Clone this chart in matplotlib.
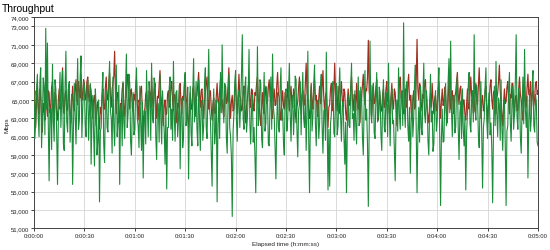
import numpy as np
import matplotlib
matplotlib.use("Agg")
import matplotlib.pyplot as plt
from matplotlib.ticker import FuncFormatter

# throughput samples, every half second, in thousands of Mbps
red_k = [
    64.5, 66.0, 62.0, 64.8, 66.8, 64.2, 63.5, 66.2, 65.2, 63.0, 61.5, 64.6, 64.0, 62.8, 66.5, 64.4, 63.2, 66.0, 65.8, 63.6,
    64.2, 66.4, 67.0, 64.6, 63.0, 65.8, 65.5, 63.4, 62.8, 65.0, 66.2, 64.0, 64.8, 66.6, 68.5, 64.2, 63.5, 65.6, 66.0, 63.8,
    64.0, 66.2, 65.8, 63.6, 62.5, 64.8, 66.5, 64.2, 63.8, 66.0, 67.2, 65.0, 64.5, 67.0, 66.0, 65.2, 67.8, 65.6, 65.0, 67.2,
    66.8, 65.0, 65.2, 67.0, 67.5, 65.4, 64.8, 66.6, 66.0, 64.0, 63.0, 65.0, 65.5, 63.6, 62.2, 64.4, 64.8, 63.0, 61.8, 64.2,
    63.5, 65.4, 66.2, 64.0, 64.0, 66.4, 67.5, 65.2, 65.0, 66.8, 68.0, 65.4, 64.2, 66.2, 66.8, 67.6, 70.3, 65.6, 63.5, 65.8,
    65.8, 63.8, 62.5, 64.6, 64.5, 66.2, 66.8, 64.4, 63.2, 65.0, 65.5, 67.0, 67.8, 65.2, 64.0, 66.0, 66.2, 64.2, 63.8, 65.6,
    65.0, 66.4, 67.2, 64.6, 62.8, 65.0, 64.5, 66.2, 66.5, 63.6, 61.5, 63.8, 64.0, 65.6, 66.0, 64.2, 63.5, 66.0, 65.8, 64.4,
    67.5, 65.0, 64.2, 66.0, 66.8, 64.6, 63.0, 65.4, 65.2, 66.8, 68.2, 65.6, 64.5, 63.2, 62.2, 64.4, 65.0, 63.4, 63.5, 65.6,
    66.0, 64.2, 64.8, 66.4, 67.0, 64.8, 63.8, 65.6, 65.5, 63.8, 62.5, 64.6, 64.2, 66.0, 66.8, 64.6, 63.5, 65.4, 65.0, 66.6,
    67.8, 65.4, 64.5, 63.0, 62.0, 64.2, 65.8, 64.0, 64.0, 66.2, 66.5, 64.4, 63.2, 65.2, 65.5, 66.8, 68.0, 65.6, 64.2, 66.0,
    66.2, 64.4, 63.0, 65.0, 65.8, 66.6, 67.5, 65.0, 64.0, 65.8, 66.0, 64.2, 62.8, 64.6, 65.2, 63.6, 63.5, 65.4, 66.8, 64.8,
    64.5, 66.0, 67.2, 65.2, 65.0, 63.8, 63.2, 65.4, 66.5, 64.6, 64.8, 66.6, 68.5, 65.0, 63.0, 64.8, 65.5, 63.8, 64.0, 66.2,
    66.8, 64.6, 63.5, 65.6, 67.8, 65.4, 65.2, 63.8, 64.0, 66.0, 66.5, 64.0, 62.5, 64.4, 65.0, 66.4, 67.0, 65.0, 64.2, 66.2,
    66.0, 64.2, 63.8, 65.8, 65.5, 66.8, 67.5, 65.2, 64.5, 63.2, 62.2, 64.4, 65.8, 64.0, 63.5, 65.6, 66.5, 64.6, 64.8, 66.4,
    67.2, 65.4, 65.0, 63.6, 63.0, 65.2, 66.2, 64.4, 64.5, 66.6, 68.0, 65.6, 65.2, 63.6, 62.8, 64.8, 66.0, 64.4, 64.0, 65.8,
    65.5, 64.0, 67.0, 65.2, 63.8, 65.6, 66.5, 64.6, 64.2, 66.2, 65.8, 63.8, 62.5, 64.2, 64.8, 66.4, 67.5, 65.0, 63.5, 65.4,
    66.0, 64.4, 64.5, 66.8, 69.0, 65.8, 65.2, 63.6, 63.0, 65.0, 66.8, 64.8, 64.0, 66.0, 67.2, 65.0, 65.5, 63.8, 63.2, 65.2,
    66.5, 64.6, 64.8, 66.6, 68.2, 65.2, 63.5, 65.4, 65.8, 63.8, 62.0, 64.2, 64.5, 66.2, 66.8, 64.4, 63.8, 66.0, 69.0, 65.6,
    65.0, 63.8, 66.5, 64.6, 63.5, 65.6, 67.0, 65.0, 64.2, 66.2, 65.8, 63.6, 62.8, 64.8, 66.2, 64.4, 64.5, 66.4, 67.5, 65.2,
    63.8, 65.6, 65.5, 63.8, 66.8, 64.8, 64.0, 66.0, 62.5, 64.4, 65.2, 66.6, 67.8, 65.4, 64.5, 66.2, 66.0, 67.4, 71.5, 66.0,
    65.0, 66.6, 63.2, 65.0, 66.5, 64.6, 64.8, 66.4, 67.2, 64.8, 62.8, 64.6, 65.5, 63.8, 63.8, 65.6, 66.2, 64.2, 64.5, 66.2,
    67.0, 64.8, 65.2, 63.6, 63.5, 65.4, 66.8, 64.6, 64.0, 66.2, 65.8, 63.8, 62.2, 64.6, 64.8, 66.6, 67.5, 65.2, 65.0, 63.6,
    63.5, 65.6, 66.2, 64.2, 64.5, 66.6, 67.8, 65.0, 65.5, 63.8, 62.8, 65.0, 66.0, 64.0, 64.2, 67.0, 71.6, 66.2, 65.0, 66.8,
    66.5, 64.6, 63.8, 65.6, 65.2, 66.8, 67.2, 65.0, 64.0, 63.2, 62.5, 64.6, 65.8, 64.2, 66.8, 65.0, 63.5, 65.2, 65.5, 63.8,
    64.2, 66.0, 67.0, 64.8, 63.0, 64.8, 66.2, 64.4, 64.8, 66.4, 65.5, 63.6, 62.5, 64.8, 67.5, 65.4, 64.0, 65.8, 66.0, 64.2,
    63.5, 65.4, 65.8, 67.0, 68.0, 65.6, 64.5, 66.2, 66.5, 64.4, 63.2, 65.0, 65.0, 63.4, 62.8, 64.6, 66.2, 64.4, 64.0, 65.8,
    67.5, 65.4, 65.2, 63.6, 63.8, 65.6, 66.8, 64.8, 64.5, 66.6, 68.5, 65.6, 63.0, 64.8, 65.5, 63.8, 64.2, 66.0, 66.5, 64.6,
    62.5, 64.4, 65.0, 66.6, 67.2, 65.0, 64.0, 65.8, 66.0, 64.2, 63.5, 65.2, 65.8, 67.0, 68.8, 66.0, 64.5, 63.4, 62.2, 64.6,
    66.2, 64.6, 64.8, 66.4, 67.0, 65.0, 63.5, 65.6, 65.2, 66.8, 66.8, 64.6, 63.2, 65.2, 65.5, 63.8, 64.0, 66.2, 67.5, 65.6,
    65.0, 63.6, 62.8, 64.8, 66.5, 64.8, 64.2, 66.4, 67.8, 65.6, 65.5, 67.0, 63.8, 65.6, 66.0, 64.4, 65.2, 66.8, 67.0, 65.6,
    66.0,
]

green_k = [
    66.0, 60.8, 62.5, 65.9, 67.8, 63.2, 61.0, 67.0, 68.5, 59.8, 63.0, 67.4, 66.5, 61.2, 72.8, 64.0, 71.2, 62.5, 56.2, 63.8,
    64.0, 59.6, 68.9, 62.8, 60.5, 67.2, 66.2, 61.4, 55.8, 63.0, 65.0, 68.0, 62.0, 64.8, 68.2, 60.2, 59.5, 66.4, 70.3, 62.6,
    61.5, 66.2, 67.0, 60.4, 63.5, 65.6, 55.8, 62.2, 66.8, 63.6, 60.2, 64.9, 69.5, 61.8, 62.8, 67.6, 69.8, 60.9, 64.0, 67.0,
    66.5, 62.4, 61.0, 66.0, 67.2, 60.6, 63.8, 66.8, 58.0, 63.0, 65.5, 61.2, 57.8, 66.2, 64.2, 59.0, 60.5, 65.0, 53.9, 61.6,
    62.0, 65.8, 68.0, 60.2, 58.2, 64.5, 66.0, 62.0, 61.5, 66.5, 69.2, 63.8, 63.0, 59.2, 67.5, 62.2, 60.0, 65.2, 68.8, 61.0,
    62.5, 66.6, 55.8, 63.4, 64.5, 60.0, 67.0, 62.6, 60.8, 66.2, 70.0, 62.0, 63.5, 67.8, 66.8, 60.5, 59.0, 64.0, 65.8, 61.2,
    61.8, 66.0, 68.5, 63.0, 62.2, 59.8, 66.5, 62.5, 59.5, 64.8, 56.5, 62.8, 63.8, 60.2, 68.2, 64.2, 61.0, 67.0, 65.5, 60.6,
    69.0, 63.2, 62.5, 67.4, 66.8, 61.0, 58.5, 64.8, 64.5, 60.4, 67.8, 63.0, 60.2, 66.0, 63.5, 61.6, 58.0, 64.2, 55.3, 62.0,
    62.0, 66.4, 67.5, 61.8, 64.0, 60.6, 69.2, 63.4, 60.5, 65.8, 66.0, 61.0, 62.8, 66.6, 57.5, 63.6, 65.2, 59.8, 61.0, 66.8,
    68.0, 62.2, 63.2, 66.4, 56.4, 63.0, 66.5, 61.4, 60.0, 65.6, 69.5, 62.6, 64.5, 67.0, 61.8, 60.0, 67.2, 63.0, 59.5, 64.6,
    65.0, 60.6, 62.2, 66.8, 68.5, 62.0, 60.8, 65.4, 70.5, 64.0, 63.0, 59.4, 55.6, 63.8, 66.2, 60.2, 61.5, 65.0, 53.9, 62.4,
    64.8, 60.8, 68.0, 63.6, 71.0, 64.4, 62.5, 66.8, 66.5, 61.0, 59.2, 64.6, 67.8, 62.0, 61.0, 58.8, 52.3, 61.5, 63.5, 67.0,
    68.2, 62.8, 60.5, 65.2, 66.0, 62.0, 64.5, 67.8, 72.1, 63.0, 61.8, 66.2, 67.5, 61.5, 63.0, 65.8, 70.5, 62.4, 60.2, 64.0,
    65.5, 60.4, 62.0, 59.0, 54.9, 63.2, 70.8, 62.2, 63.5, 67.2, 66.8, 60.8, 59.8, 64.6, 68.0, 61.6, 62.5, 66.4, 65.0, 60.2,
    60.0, 64.8, 67.5, 61.8, 70.0, 64.2, 63.2, 59.6, 56.4, 62.6, 65.8, 62.0, 61.5, 66.2, 68.5, 62.8, 64.0, 60.4, 59.0, 65.4,
    66.2, 61.6, 62.8, 66.0, 69.0, 63.4, 60.5, 64.8, 65.5, 61.2, 63.8, 67.6, 67.2, 61.8, 58.8, 63.8, 64.5, 67.0, 61.2, 65.4,
    68.0, 63.0, 62.0, 65.6, 59.5, 63.4, 70.3, 61.0, 54.9, 62.8, 66.5, 61.6, 63.2, 66.8, 68.8, 62.4, 60.0, 64.4, 65.0, 60.8,
    62.5, 66.4, 67.8, 62.0, 59.2, 63.8, 64.0, 60.6, 70.2, 62.6, 55.2, 61.8, 55.6, 62.4, 63.5, 66.6, 67.0, 61.4, 61.0, 65.2,
    66.8, 61.2, 62.2, 65.8, 68.5, 63.2, 60.5, 64.4, 64.8, 61.0, 58.0, 62.6, 54.9, 61.8, 65.5, 62.2, 62.0, 66.2, 69.0, 63.0,
    63.5, 60.6, 66.0, 62.4, 60.2, 65.0, 67.5, 62.2, 62.8, 66.4, 65.2, 61.0, 59.0, 64.2, 68.2, 62.8, 64.0, 60.2, 53.4, 61.6,
    71.4, 63.6, 62.5, 66.2, 66.8, 61.4, 60.8, 65.0, 68.0, 62.6, 63.2, 66.4, 65.8, 61.2, 59.5, 64.6, 67.2, 62.0, 61.5, 65.8,
    64.5, 61.0, 69.0, 63.8, 60.0, 65.2, 66.2, 62.4, 62.8, 59.6, 56.2, 62.8, 65.0, 61.6, 68.5, 63.4, 61.8, 65.6, 66.0, 62.2,
    73.4, 64.0, 62.0, 66.6, 67.0, 62.2, 60.5, 64.2, 57.0, 62.6, 65.5, 61.0, 63.0, 66.8, 68.8, 62.0, 54.9, 61.2, 64.2, 60.4,
    66.5, 62.0, 61.2, 65.4, 69.0, 63.4, 62.5, 66.0, 65.0, 60.6, 59.0, 63.8, 67.8, 62.6, 63.8, 59.4, 60.2, 64.8, 66.0, 61.6,
    62.8, 66.2, 68.5, 61.2, 53.5, 60.8, 64.0, 60.4, 60.5, 65.2, 66.8, 62.2, 63.2, 67.0, 69.5, 63.6, 71.4, 63.8, 61.0, 65.4,
    65.5, 61.4, 62.0, 66.2, 67.5, 62.0, 58.5, 63.6, 64.8, 60.8, 66.2, 61.8, 60.0, 63.2, 55.2, 61.4, 63.5, 66.6, 68.0, 62.4,
    61.5, 65.2, 66.0, 62.6, 72.1, 64.0, 62.8, 66.6, 65.2, 61.2, 59.8, 64.2, 67.0, 61.0, 55.4, 62.0, 63.0, 66.4, 68.5, 62.8,
    60.8, 64.6, 65.8, 61.2, 62.5, 59.6, 53.8, 61.8, 66.5, 62.2, 69.2, 63.6, 61.0, 65.2, 64.5, 60.6, 67.2, 62.0, 59.5, 63.8,
    65.0, 60.2, 53.5, 61.6, 62.2, 66.0, 68.0, 62.6, 60.5, 64.6, 66.5, 61.8, 63.5, 67.0, 72.1, 63.2, 61.8, 66.2, 65.5, 61.0,
    59.2, 64.0, 67.5, 62.4, 70.5, 63.8, 62.0, 65.4, 56.5, 62.6, 66.0, 61.6, 63.0, 66.6, 68.2, 62.2, 61.5, 65.6, 64.8, 60.4,
    60.0,
]

y_ticks = [51000, 53000, 55000, 57000, 59000, 61000, 63000,
           65000, 67000, 69000, 71000, 73000, 74000]
x_ticks = list(range(0, 301, 30))
sample_step = 0.5  # seconds between samples

red = np.array(red_k) * 1000
green = np.array(green_k) * 1000
t_red = np.arange(len(red)) * sample_step
t_green = np.arange(len(green)) * sample_step


def hms(s, pos=None):
    s = int(round(s))
    return "%d:%02d:%02d" % (s // 3600, (s % 3600) // 60, s % 60)


plt.rcParams['font.family'] = ['Liberation Sans', 'DejaVu Sans']

fig = plt.figure(figsize=(5.5, 2.51), dpi=100)
ax = fig.add_axes([0.0618, 0.0857, 0.9164, 0.8414])

ax.plot(t_red, red, color='#9e2e1e', lw=0.85, zorder=3)
ax.plot(t_green, green, color='#1c8c3a', lw=0.8, zorder=4)

ax.set_xlim(0, 300)
ax.set_ylim(51000, 74000)
ax.set_xticks(x_ticks)
ax.set_yticks(y_ticks)
ax.xaxis.set_major_formatter(FuncFormatter(hms))
ax.yaxis.set_major_formatter(FuncFormatter(lambda v, p: "{:,.0f}".format(v)))
ax.tick_params(labelsize=4.3, length=2, width=0.6, pad=1.2, colors='#222222')

ax.grid(True, color='#d4d4d4', lw=0.6, zorder=0)
for side in ax.spines:
    ax.spines[side].set_linewidth(0.7)
    ax.spines[side].set_color('#444444')

ax.set_xlabel("Elapsed time (h:mm:ss)", fontsize=4.6, labelpad=2, color='#222222')
fig.text(0.012, 0.5, "Mbps", rotation=90, fontsize=4.6, va='center', ha='center',
         color='#222222')
fig.text(0.003, 0.985, "Throughput", fontsize=7.5, va='top', ha='left')

fig.savefig("out.png", dpi=100)
